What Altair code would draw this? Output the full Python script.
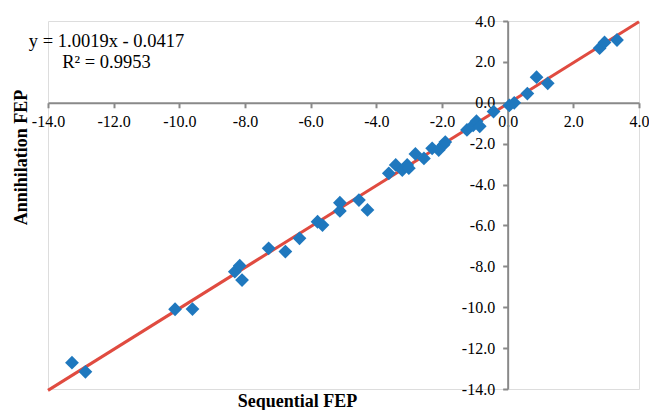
import altair as alt
import pandas as pd

# Sequential FEP (x) vs Annihilation FEP (y)
seq_fep = [-13.27, -12.86, -10.13, -9.60, -8.31, -8.16, -8.09, -7.28, -6.77, -6.34,
           -5.79, -5.64, -5.11, -5.11, -4.53, -4.27, -3.62, -3.41, -3.21, -3.06,
           -3.01, -2.81, -2.55, -2.30, -2.10, -1.95, -1.90, -1.24, -1.05, -0.95,
           -0.85, -0.43, 0.05, 0.20, 0.60, 0.88, 1.22, 2.80, 2.95, 3.33]
ann_fep = [-12.71, -13.16, -10.10, -10.09, -8.26, -7.97, -8.67, -7.12, -7.28, -6.63,
           -5.82, -5.98, -5.29, -4.89, -4.76, -5.24, -3.45, -3.04, -3.29, -3.04,
           -3.20, -2.50, -2.72, -2.23, -2.31, -2.05, -1.92, -1.33, -1.10, -0.90,
           -1.15, -0.43, -0.13, 0.00, 0.45, 1.25, 0.95, 2.67, 2.95, 3.07]

# Trend line end points (y = 1.0019x - 0.0417 over the axis range)
fit_x = [-14.0, 4.0]
fit_y = [-14.0683, 3.9659]

eq_lines = ["y = 1.0019x - 0.0417", "R\u00b2 = 0.9953"]
tick_values = [-14, -12, -10, -8, -6, -4, -2, 0, 2, 4]

W, H = 591, 368
PAD_L, PAD_T = 40, 13
FONT = "Liberation Serif"
AXIS_GRAY = "#898989"

pts = pd.DataFrame({"x": seq_fep, "y": ann_fep})
fit = pd.DataFrame({"x": fit_x, "y": fit_y})

xs = alt.Scale(domain=[-14, 4], nice=False, zero=False)
ys = alt.Scale(domain=[-14, 4], nice=False, zero=False)

label_expr = "(datum.value < 0 ? '-' : '') + format(abs(datum.value), '.1f')"

x_zero_px = H * 4 / 18.0      # pixel row of y = 0
y_zero_px = W * 14 / 18.0     # pixel column of x = 0

x_axis = alt.Axis(
    values=tick_values, labelExpr=label_expr, grid=False,
    offset=-(H - x_zero_px), zindex=0,
    domainColor=AXIS_GRAY, domainWidth=2, tickColor=AXIS_GRAY, tickWidth=2, tickSize=5,
    labelPadding=6, labelFont=FONT, labelFontSize=16, labelColor="black",
    labelFlush=False, labelOverlap=False,
    title="Sequential FEP", titleFont=FONT, titleFontSize=18, titleFontWeight="bold",
    titleColor="black", titleX=297 - 8 - PAD_L, titleY=406 - 8 - PAD_T - x_zero_px,
    titleAlign="center", titleBaseline="alphabetic",
)
y_axis = alt.Axis(
    values=tick_values, labelExpr=label_expr, grid=False,
    offset=-y_zero_px, zindex=0,
    domainColor=AXIS_GRAY, domainWidth=2, tickColor=AXIS_GRAY, tickWidth=2, tickSize=5,
    labelPadding=8, labelFont=FONT, labelFontSize=16, labelColor="black",
    labelFlush=False, labelOverlap=False,
    title="Annihilation FEP", titleFont=FONT, titleFontSize=18, titleFontWeight="bold",
    titleColor="black", titleX=21 - 8 - PAD_L - y_zero_px, titleY=157 - 8 - PAD_T,
    titleAngle=270, titleAlign="center", titleBaseline="middle",
)

line = alt.Chart(fit).mark_line(color="#E04B40", strokeWidth=3).encode(
    x=alt.X("x:Q", scale=xs, axis=x_axis),
    y=alt.Y("y:Q", scale=ys, axis=y_axis),
)
points = alt.Chart(pts).mark_point(
    shape="diamond", filled=True, size=190, color="#1F78BE", opacity=1
).encode(x=alt.X("x:Q", scale=xs), y=alt.Y("y:Q", scale=ys))

eq1 = alt.Chart(pd.DataFrame({"t": [eq_lines[0]]})).mark_text(
    font=FONT, fontSize=18.5, color="black", align="center", baseline="middle"
).encode(text="t:N", x=alt.value(106.5 - 8 - PAD_L), y=alt.value(41 - 8 - PAD_T))
eq2 = alt.Chart(pd.DataFrame({"t": [eq_lines[1]]})).mark_text(
    font=FONT, fontSize=18.5, color="black", align="center", baseline="middle"
).encode(text="t:N", x=alt.value(106.5 - 8 - PAD_L), y=alt.value(62 - 8 - PAD_T))

chart = alt.layer(line, points, eq1, eq2).properties(
    width=W, height=H,
    autosize=alt.AutoSizeParams(type="none"),
    padding={"left": PAD_L, "top": PAD_T, "right": 10, "bottom": 21},
).configure_view(stroke=None).configure(
    background="white", font=FONT
).configure_axis(labelFont=FONT, titleFont=FONT)

chart.save("out.html", embed_options={"renderer": "svg", "actions": False})
